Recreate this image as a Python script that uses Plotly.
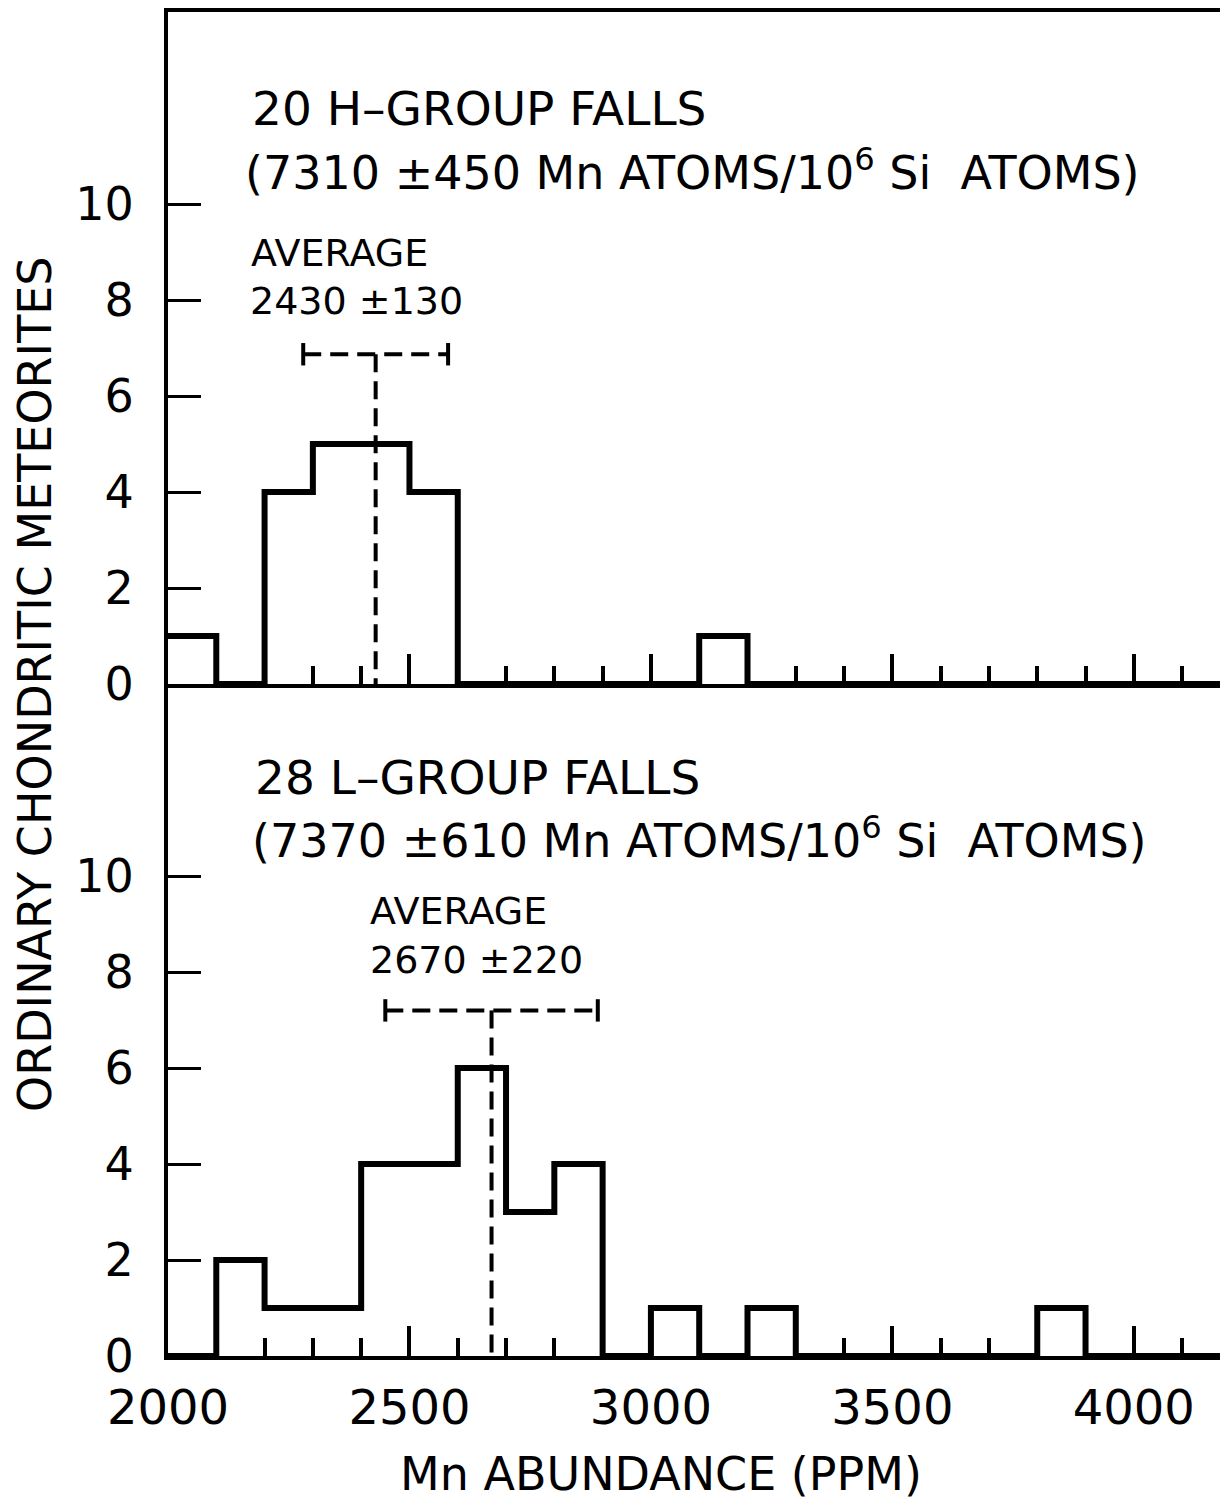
import plotly.graph_objects as go

# ---- data ----
bin_starts = [2000, 2100, 2200, 2300, 2400, 2500, 2600, 2700, 2800, 2900, 3000,
              3100, 3200, 3300, 3400, 3500, 3600, 3700, 3800, 3900, 4000, 4100]
bin_width = 100
h_counts = [1, 0, 4, 5, 5, 4, 0, 0, 0, 0, 0, 1, 0, 0, 0, 0, 0, 0, 0, 0, 0, 0]
l_counts = [0, 2, 1, 1, 4, 4, 6, 3, 4, 0, 1, 0, 1, 0, 0, 0, 0, 0, 1, 0, 0, 0]

h_mean, h_lo, h_hi, h_bar_y = 2430, 2280, 2580, 6.87
l_mean, l_lo, l_hi, l_bar_y = 2670, 2450, 2890, 7.2

y_ticks = [0, 2, 4, 6, 8, 10]
y_tick_text = ["0", "2", "4", "6", "8", "10"]
x_ticks = [2000, 2500, 3000, 3500, 4000]
x_tick_text = ["2000", "2500", "3000", "3500", "4000"]

h_title = "20 H\u2013GROUP FALLS"
h_sub = "(7310 \u00b1450 Mn ATOMS/10<sup>6</sup> Si  ATOMS)"
h_avg = "2430 \u00b1130"
l_title = "28 L\u2013GROUP FALLS"
l_sub = "(7370 \u00b1610 Mn ATOMS/10<sup>6</sup> Si  ATOMS)"
l_avg = "2670 \u00b1220"
x_title = "Mn ABUNDANCE (PPM)"
y_title = "ORDINARY CHONDRITIC METEORITES"

FONT = "DejaVu Sans"
LW = 6
DASH = "18px,9px"

fig = go.Figure()


def add_panel(counts, mean, lo, hi, bary, xa, ya):
    xs = bin_starts + [bin_starts[-1] + bin_width]
    ys = counts + [counts[-1]]
    fig.add_trace(go.Scatter(x=xs, y=ys, mode="lines", line_shape="hv",
                             line=dict(color="black", width=LW),
                             xaxis=xa, yaxis=ya, hoverinfo="skip"))
    fig.add_trace(go.Scatter(x=[lo, hi], y=[bary, bary], mode="lines",
                             line=dict(color="black", width=4, dash=DASH),
                             xaxis=xa, yaxis=ya, hoverinfo="skip"))
    fig.add_trace(go.Scatter(x=[lo, hi], y=[bary, bary], mode="markers",
                             marker=dict(symbol="line-ns", size=16,
                                         line=dict(color="black", width=4)),
                             xaxis=xa, yaxis=ya, hoverinfo="skip"))
    fig.add_trace(go.Scatter(x=[mean, mean], y=[bary, 0], mode="lines",
                             line=dict(color="black", width=4, dash=DASH),
                             xaxis=xa, yaxis=ya, hoverinfo="skip"))


add_panel(h_counts, h_mean, h_lo, h_hi, h_bar_y, "x", "y")
add_panel(l_counts, l_mean, l_lo, l_hi, l_bar_y, "x2", "y2")

xcommon = dict(range=[2000, 4195], showline=True, linewidth=4, linecolor="black",
               ticks="inside", tickvals=x_ticks, ticktext=x_tick_text,
               ticklen=30, tickwidth=4, tickcolor="black",
               showgrid=False, zeroline=False,
               minor=dict(dtick=100, tick0=2000, ticks="inside", ticklen=18,
                          tickwidth=4, tickcolor="black", showgrid=False),
               tickfont=dict(family=FONT, size=48, color="black"))
ycommon = dict(range=[0, 14], showline=True, linewidth=4, linecolor="black",
               ticks="inside", tickvals=y_ticks, ticktext=y_tick_text,
               ticklen=33, tickwidth=3, tickcolor="black",
               showgrid=False, zeroline=False, ticklabelstandoff=21,
               tickfont=dict(family=FONT, size=46, color="black"))

fig.update_layout(
    width=1220, height=1501,
    margin=dict(l=160, r=0, t=1, b=153),
    plot_bgcolor="white", paper_bgcolor="white",
    showlegend=False,
    xaxis=dict(**xcommon, anchor="y", domain=[0, 1], mirror=True, showticklabels=False),
    yaxis=dict(**ycommon, anchor="x", domain=[0.5, 1]),
    xaxis2=dict(**xcommon, anchor="y2", domain=[0, 1], matches="x",
                showticklabels=True, ticklabelstandoff=6),
    yaxis2=dict(**ycommon, anchor="x2", domain=[0, 0.5]),
)


def ann(text, x, y, xref, yref, size, **kw):
    fig.add_annotation(text=text, x=x, y=y, xref=xref, yref=yref, showarrow=False,
                       xanchor=kw.pop("xanchor", "left"), yanchor=kw.pop("yanchor", "middle"),
                       font=dict(family=FONT, size=size, color="black"), **kw)


ann(h_title, 2170, 11.98, "x", "y", 47)
ann(h_sub, 2156, 10.7, "x", "y", 46)
ann("AVERAGE", 2168, 8.97, "x", "y", 38)
ann(h_avg, 2166, 7.97, "x", "y", 38)

ann(l_title, 2176, 12.06, "x2", "y2", 47)
ann(l_sub, 2170, 10.8, "x2", "y2", 46)
ann("AVERAGE", 2414, 9.27, "x2", "y2", 38)
ann(l_avg, 2414, 8.25, "x2", "y2", 38)

ann(x_title, 0.465, -0.088, "paper", "paper", 46, xanchor="center")
fig.add_annotation(text=y_title, x=-0.1255, y=0.5, xref="paper", yref="paper",
                   showarrow=False, textangle=-90, xanchor="center", yanchor="middle",
                   font=dict(family=FONT, size=46, color="black"))

fig.write_html("out.html")
